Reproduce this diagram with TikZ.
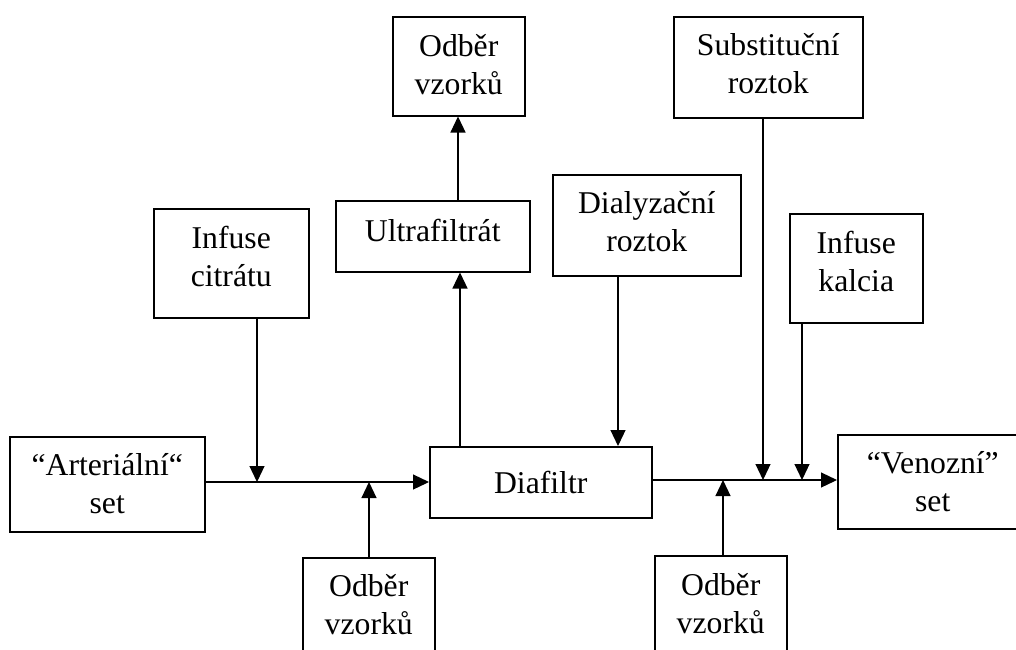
\documentclass[tikz,border=0pt]{standalone}
\usepackage{fontspec}
\setmainfont{Liberation Serif}
\usetikzlibrary{arrows.meta}
\tikzset{
  boxnode/.style={draw, line width=1.5pt, align=center, inner sep=0pt, anchor=north west,
    font=\fontsize{31.7pt}{38pt}\selectfont},
  arr/.style={line width=1.2pt, -{Triangle[length=16pt,width=15pt]}}
}
\begin{document}
\begin{tikzpicture}[x=1pt,y=-1pt]
\useasboundingbox (0,0) rectangle (1016,649);
\clip (0,0) rectangle (1016,649);
% boxes (text height measured to the last baseline)
\node[boxnode, minimum width=132pt, text height=78pt, text depth=21pt] (odbT) at (392,16) {Odběr\\vzorků};
\node[boxnode, minimum width=194pt, text height=41pt, text depth=30pt] (ultra) at (335,200) {Ultrafiltrát};
\node[boxnode, minimum width=155pt, text height=78pt, text depth=31pt] (citrat) at (153,208) {Infuse\\citrátu};
\node[boxnode, minimum width=188pt, text height=77pt, text depth=24pt] (dialyz) at (552,174) {Dialyzační\\roztok};
\node[boxnode, minimum width=189pt, text height=77pt, text depth=24pt] (subst) at (673,16) {Substituční\\roztok};
\node[boxnode, minimum width=133pt, text height=78pt, text depth=31pt] (kalc) at (789,213) {Infuse\\kalcia};
\node[boxnode, minimum width=195pt, text height=77pt, text depth=18pt] (arter) at (9,436) {“Arteriální“\\set};
\node[boxnode, minimum width=222pt, text height=47pt, text depth=24pt] (diaf) at (429,446) {Diafiltr};
\node[boxnode, minimum width=190pt, text height=77pt, text depth=17pt] (venoz) at (837,434) {“Venozní”\\set};
\node[boxnode, minimum width=132pt, text height=77pt, text depth=42pt] (odbL) at (302,557) {Odběr\\vzorků};
\node[boxnode, minimum width=132pt, text height=78pt, text depth=42pt] (odbR) at (654,555) {Odběr\\vzorků};
% junction coordinates
\coordinate (jc) at (257,482);
\coordinate (jl) at (369,482);
\coordinate (jr) at (723,480);
\coordinate (js) at (763,480);
\coordinate (jk) at (802,480);
\coordinate (xu) at (460,0);
\coordinate (xo) at (458,0);
\coordinate (xd) at (618,0);
% connectors
\draw[arr] (arter.east |- jc) -- (diaf.west |- jc);
\draw[arr] (jc |- citrat.south) -- (jc);
\draw[arr] (jl |- odbL.north) -- (jl);
\draw[arr] (xu |- diaf.north) -- (xu |- ultra.south);
\draw[arr] (xo |- ultra.north) -- (xo |- odbT.south);
\draw[arr] (xd |- dialyz.south) -- (xd |- diaf.north);
\draw[arr] (diaf.east |- jr) -- (venoz.west |- jr);
\draw[arr] (jr |- odbR.north) -- (jr);
\draw[arr] (js |- subst.south) -- (js);
\draw[arr] (jk |- kalc.south) -- (jk);
\end{tikzpicture}
\end{document}
